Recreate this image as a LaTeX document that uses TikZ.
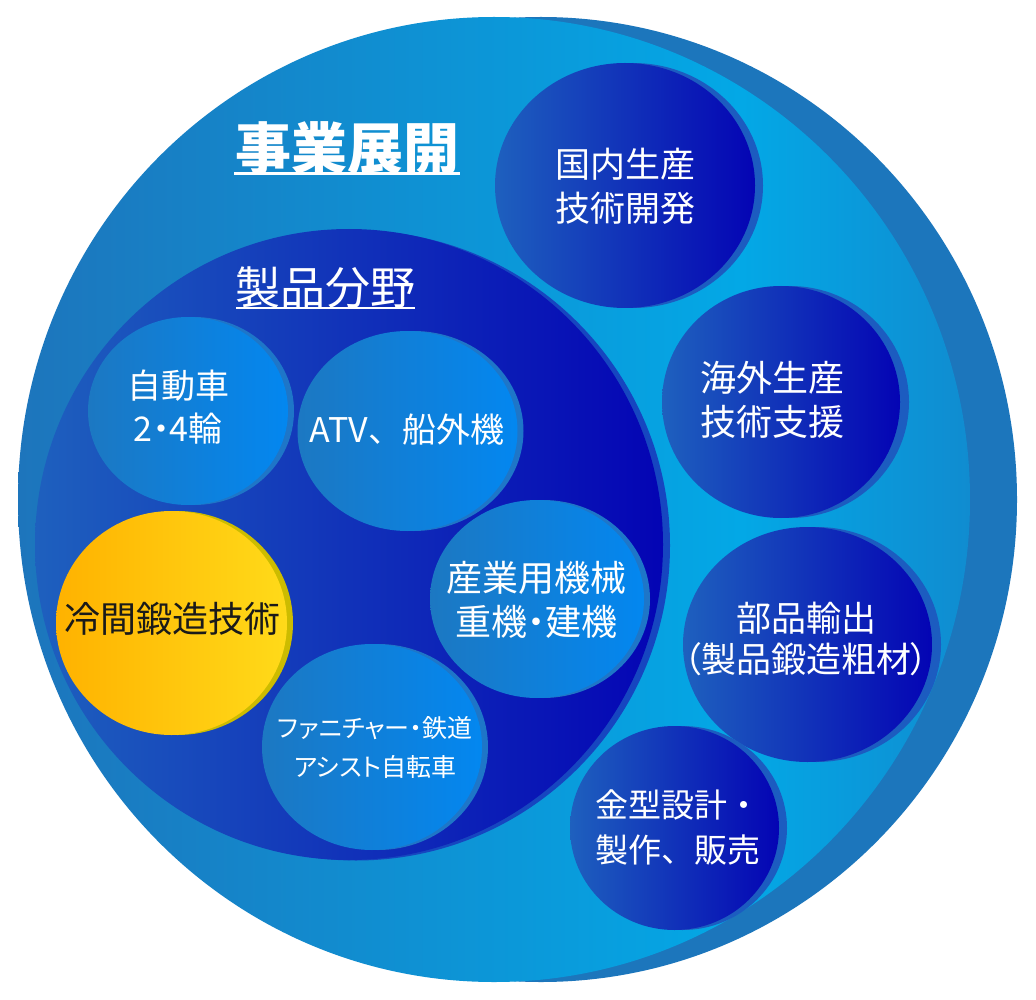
\documentclass[tikz,border=0pt]{standalone}
\usepackage{fontspec}
\newfontfamily\jp{Noto Sans CJK JP}
\newfontfamily\jpp[RawFeature=+palt]{Noto Sans CJK JP}
\definecolor{oA}{RGB}{29,117,188}
\definecolor{oB}{RGB}{3,168,230}
\definecolor{oC}{RGB}{16,140,208}
\definecolor{oShadow}{RGB}{28,118,188}
\definecolor{dkL}{RGB}{30,96,190}
\definecolor{dkR}{RGB}{4,4,180}
\definecolor{dkShadow}{RGB}{28,92,192}
\definecolor{pfShadow}{RGB}{22,70,192}
\definecolor{ltL}{RGB}{28,120,194}
\definecolor{ltR}{RGB}{3,135,240}
\definecolor{ltShadow}{RGB}{30,118,200}
\definecolor{yL}{RGB}{255,178,0}
\definecolor{yR}{RGB}{255,218,25}
\definecolor{yShadow}{RGB}{204,188,0}
\definecolor{txtDark}{RGB}{26,26,26}
\pgfdeclarehorizontalshading{outersh}{100bp}{color(0bp)=(oA); color(25bp)=(oA); color(63bp)=(oB); color(75bp)=(oC); color(100bp)=(oC)}
\tikzset{
  lbl/.style={text=white, align=center, inner sep=0pt},
  darkdisc/.style={left color=dkL, right color=dkR},
  lightdisc/.style={left color=ltL, right color=ltR},
  yellowdisc/.style={left color=yL, right color=yR},
}
\begin{document}
\begin{tikzpicture}[x=1pt,y=-1pt]
\useasboundingbox (0,0) rectangle (1036,1000);
\fill[white] (0,0) rectangle (1036,1000);
% outer
\fill[oShadow] (541,499.5) ellipse [x radius=476pt, y radius=482.5pt];
\shade[shading=outersh] (494,499.5) ellipse [x radius=476pt, y radius=482.5pt];
% product field
\fill[pfShadow] (356,545.5) ellipse [x radius=314pt, y radius=315pt];
\shade[darkdisc] (349,544.5) ellipse [x radius=314pt, y radius=315.5pt];
% sub circles inside
\fill[ltShadow] (194,411) ellipse [x radius=100pt, y radius=94pt];
\shade[lightdisc] (188,411) ellipse [x radius=100pt, y radius=94pt];
\fill[ltShadow] (413.5,431) ellipse [x radius=110pt, y radius=100pt];
\shade[lightdisc] (407.5,431) ellipse [x radius=110pt, y radius=100pt];
\fill[yShadow] (177.5,623) ellipse [x radius=115.5pt, y radius=112pt];
\shade[yellowdisc] (171.5,623) ellipse [x radius=115.5pt, y radius=112pt];
\fill[ltShadow] (543,599) ellipse [x radius=107pt, y radius=99pt];
\shade[lightdisc] (537,599) ellipse [x radius=107pt, y radius=99pt];
\fill[ltShadow] (378,747) ellipse [x radius=110pt, y radius=103pt];
\shade[lightdisc] (372,747) ellipse [x radius=110pt, y radius=103pt];
% right circles
\fill[dkShadow] (633,185.5) ellipse [x radius=130pt, y radius=122.5pt];
\shade[darkdisc] (625,185.5) ellipse [x radius=130pt, y radius=122.5pt];
\fill[dkShadow] (790,402) ellipse [x radius=119pt, y radius=116pt];
\shade[darkdisc] (781,402) ellipse [x radius=119pt, y radius=116pt];
\fill[dkShadow] (816.5,644.5) ellipse [x radius=124.5pt, y radius=117.5pt];
\shade[darkdisc] (807.5,644.5) ellipse [x radius=124.5pt, y radius=117.5pt];
\fill[dkShadow] (682.5,828) ellipse [x radius=104.5pt, y radius=102pt];
\shade[darkdisc] (674.5,828) ellipse [x radius=104.5pt, y radius=102pt];
% titles
\node[lbl, font=\jp\bfseries\fontsize{56}{60}\selectfont] (title) at (347,148) {事業展開};
\draw[white, line width=3pt] (234,174) -- (460,174);
\node[lbl, font=\jp\fontsize{45}{50}\selectfont] (field) at (325,288) {製品分野};
\draw[white, line width=2pt] (236,308.5) -- (415,308.5);
% labels
\node[lbl, font=\jp\fontsize{35}{44}\selectfont] (kokunai) at (625,186) {国内生産\\技術開発};
\node[lbl, font=\jpp\fontsize{34}{43}\selectfont] (jidosha) at (178,407.5) {自動車\\2・4輪};
\node[lbl, font=\jp\fontsize{34}{43}\selectfont] (atv) at (407,430) {ATV、船外機};
\node[lbl, font=\jp\fontsize{36}{44}\selectfont] (kaigai) at (772,400) {海外生産\\技術支援};
\node[lbl, text=txtDark, font=\jp\fontsize{36}{44}\selectfont] (reikan) at (172,619) {冷間鍛造技術};
\node[lbl, font=\jpp\fontsize{36}{44}\selectfont] (sangyo) at (536,600) {産業用機械\\重機・建機};
\node[lbl, font=\jpp\fontsize{35}{41}\selectfont] (buhin) at (806,638.5) {部品輸出\\（製品鍛造粗材）};
\node[lbl, font=\jp\fontsize{33}{45}\selectfont] (kanagata) at (678,827.5) {金型設計・\\製作、販売};
\node[lbl, font=\jpp\fontsize{25}{39}\selectfont] (furniture) at (375,747.5) {ファニチャー・鉄道\\アシスト自転車};
\end{tikzpicture}
\end{document}
